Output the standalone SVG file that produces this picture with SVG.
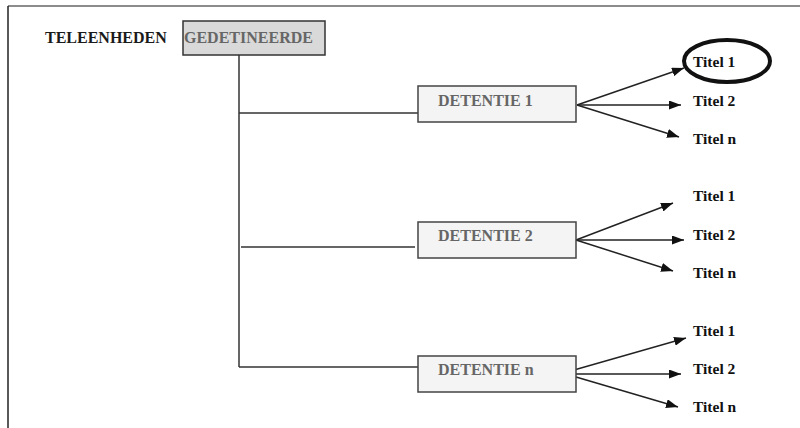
<svg xmlns="http://www.w3.org/2000/svg" width="800" height="428" viewBox="0 0 800 428">
<style>
.hdr{font-family:"Liberation Serif","Times New Roman",serif;font-weight:bold;font-size:16px}
.ttl{font-family:"Liberation Serif","Times New Roman",serif;font-weight:bold;font-size:15.5px;fill:#111}
.box{fill:#f4f4f4;stroke:#444;stroke-width:1.5}
.gray{fill:#666}
.ln{stroke:#333;stroke-width:1.5;fill:none}
.arr{stroke:#222;stroke-width:1.5;fill:none;marker-end:url(#ah)}
</style>
<defs>
<marker id="ah" viewBox="0 0 12 9" refX="12" refY="4.5" markerWidth="12" markerHeight="9" markerUnits="userSpaceOnUse" orient="auto">
<path d="M0,0 L12,4.5 L0,9 z" fill="#111"/>
</marker>
</defs>
<rect width="800" height="428" fill="#fff"/>
<g id="frame">
<line x1="8" y1="6" x2="800" y2="6" stroke="#666" stroke-width="1.5"/>
<line x1="8" y1="6" x2="8" y2="428" stroke="#222" stroke-width="1.5"/>
</g>
<g id="connectors">
<line class="ln" x1="239" y1="55" x2="239" y2="367"/>
<line class="ln" x1="239" y1="113" x2="418" y2="113"/>
<line class="ln" x1="241" y1="247" x2="415" y2="247"/>
<line class="ln" x1="239" y1="367" x2="418" y2="367"/>
<line class="arr" x1="577" y1="105" x2="684" y2="68"/>
<line class="arr" x1="577" y1="105" x2="681" y2="105"/>
<line class="arr" x1="577" y1="105" x2="679" y2="137"/>
<line class="arr" x1="576" y1="240" x2="673" y2="203"/>
<line class="arr" x1="576" y1="240" x2="684" y2="240"/>
<line class="arr" x1="576" y1="240" x2="673" y2="271"/>
<line class="arr" x1="574" y1="370" x2="686" y2="338"/>
<line class="arr" x1="576" y1="374" x2="681" y2="374"/>
<line class="arr" x1="576" y1="377" x2="678" y2="407"/>
</g>
<g id="label-teleenheden">
<text class="hdr" x="45" y="43" fill="#1a1a1a">TELEENHEDEN</text>
</g>
<g id="node-gedetineerde">
<rect x="183" y="21" width="142" height="34" fill="#d9d9d9" stroke="#333" stroke-width="1.5"/>
<text class="hdr gray" x="184" y="43">GEDETINEERDE</text>
</g>
<g id="node-detentie1">
<rect class="box" x="418" y="86" width="158" height="36"/>
<text class="hdr gray" x="438" y="106">DETENTIE 1</text>
</g>
<g id="node-detentie2">
<rect class="box" x="418" y="222" width="158" height="36"/>
<text class="hdr gray" x="438" y="241">DETENTIE 2</text>
</g>
<g id="node-detentien">
<rect class="box" x="418" y="356" width="158" height="36"/>
<text class="hdr gray" x="438" y="375">DETENTIE n</text>
</g>
<g id="titles-1">
<ellipse cx="727" cy="61" rx="43" ry="21" fill="none" stroke="#111" stroke-width="4"/>
<text class="ttl" x="693" y="67">Titel 1</text>
<text class="ttl" x="693" y="106">Titel 2</text>
<text class="ttl" x="693" y="144">Titel n</text>
</g>
<g id="titles-2">
<text class="ttl" x="693" y="201">Titel 1</text>
<text class="ttl" x="693" y="240">Titel 2</text>
<text class="ttl" x="693" y="278">Titel n</text>
</g>
<g id="titles-n">
<text class="ttl" x="693" y="336">Titel 1</text>
<text class="ttl" x="693" y="374">Titel 2</text>
<text class="ttl" x="693" y="412">Titel n</text>
</g>
</svg>
